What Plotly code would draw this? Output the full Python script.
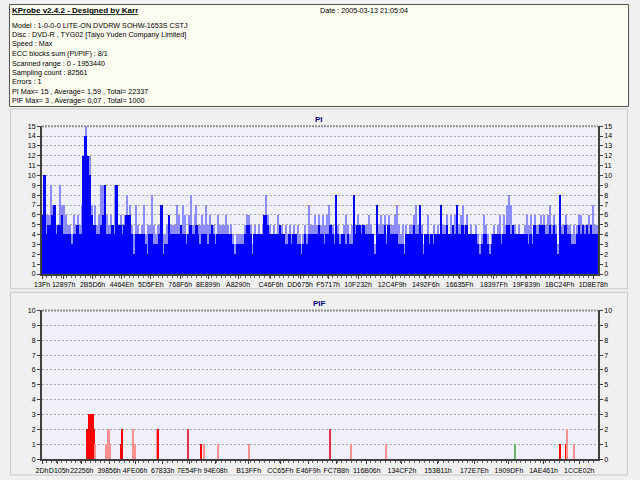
import plotly.graph_objects as go

# ---------------- data ----------------
TOTAL_LBA = 1953440

pi_tick_labels = ["13Fh", "12897h", "2B5D6h", "4464Eh", "5D5FEh", "768F6h", "8E899h",
                  "A8290h", "C46F6h", "DD675h", "F5717h", "10F232h", "12C4F9h", "1492F6h",
                  "16635Fh", "18397Fh", "19F839h", "1BC24Fh", "1D8E78h"]
pif_tick_labels = ["2Dh", "D105h", "22256h", "39856h", "4FE06h", "67833h", "7E54Fh",
                   "94E08h", "B13FFh", "CC65Fh", "E46F9h", "FC7B8h", "116B06h", "134CF2h",
                   "153B11h", "172E7Eh", "1909DFh", "1AE461h", "1CCE02h"]

# PI per display column: peak (light) and sustained (dark) values
pi_light = [6,10,6,6,9,7,7,5,5,9, 7,7,6,5,5,4,6,5,6,5, 7,12,15,12,12,7,5,7,5,6,
            9,9,9,6,5,6,5,9,9,5, 6,5,6,8,6,7,5,4,7,5, 4,5,7,4,5,5,8,5,4,5,
            5,7,4,4,5,6,5,5,5,7, 6,5,7,6,4,6,8,5,6,7, 5,5,6,5,7,5,6,5,5,4,
            6,5,5,5,6,5,4,5,4,3, 4,4,4,4,5,6,6,5,3,5, 4,5,4,5,6,8,6,5,4,5,
            4,6,5,5,4,5,4,5,4,5, 4,5,4,3,4,5,4,7,5,5, 6,5,6,5,6,5,6,7,5,5,
            4,8,5,4,4,5,6,5,4,5, 8,5,6,5,5,5,5,5,6,5, 4,3,7,5,6,5,6,4,6,5,
            5,6,7,5,4,5,3,5,4,5, 5,6,7,5,7,5,3,4,6,4, 4,5,4,5,4,7,5,5,6,4,
            6,5,6,7,5,6,7,5,6,4, 5,4,4,5,4,3,4,6,5,4, 3,4,5,4,5,6,4,6,5,7,
            8,7,5,5,4,5,4,4,5,6, 5,6,4,6,5,5,6,5,6,5, 6,7,5,6,5,3,8,5,5,6,
            5,5,4,5,4,5,6,6,5,5, 5,6,5,7,5,5]
pi_dark = [6,10,4,5,5,6,7,4,5,5, 6,4,4,4,4,3,4,4,5,4, 4,12,14,12,10,6,5,5,4,4,
           5,6,9,4,4,4,5,4,9,5, 5,4,5,6,6,6,4,2,4,4, 4,4,4,3,2,4,4,3,3,3,
           4,7,2,3,3,6,4,4,4,4, 4,5,4,4,3,4,5,4,4,5, 4,3,4,4,4,3,4,5,4,3,
           4,4,4,4,4,4,4,4,3,2, 3,3,3,3,4,5,5,4,2,4, 4,4,4,4,6,6,5,4,4,4,
           4,4,5,4,4,3,3,4,3,4, 4,3,3,2,3,4,3,4,4,4, 4,4,5,4,4,3,4,4,5,4,
           3,8,4,3,4,4,3,4,3,3, 8,4,5,5,4,5,4,4,4,4, 4,2,7,4,4,4,5,3,5,4,
           4,4,4,3,3,3,2,4,4,4, 4,5,4,4,7,4,2,4,4,3, 4,3,4,4,4,7,4,4,5,4,
           4,5,4,7,4,4,5,4,5,4, 4,4,4,4,3,2,3,4,4,3, 2,3,4,4,4,4,3,4,4,5,
           5,4,5,4,4,4,4,4,4,4, 3,4,3,5,4,4,5,5,5,4, 4,5,4,5,4,2,8,4,4,5,
           4,4,3,3,3,4,5,4,5,4, 5,4,5,4,4,4]

# PIF events: LBA, count, kind
pif_lba = [158800, 162200, 165600, 169000, 172500, 175900, 179300, 182700, 186100,
           223700, 230500, 233900, 240800, 278300, 281700, 319300, 326100,
           404700, 408100, 514000, 558400, 568600, 619800, 729100, 1012500,
           1084300, 1207200, 1661400, 1821900, 1842400, 1845800, 1869700]
pif_val = [2, 2, 3, 3, 3, 3, 3, 2, 1,
           1, 2, 2, 1, 1, 2, 2, 1,
           2, 2, 2, 1, 1, 1, 1, 2,
           1, 1, 1, 1, 1, 2, 1]
pif_kind = ["d", "d", "d", "d", "d", "d", "d", "d", "l",
            "l", "l", "l", "l", "d", "d", "l", "l",
            "l", "d", "m", "d", "l", "l", "l", "m",
            "l", "l", "g", "d", "d", "l", "l"]

header_lines = ["Model : 1-0-0-0 LITE-ON DVDRW SOHW-1653S CSTJ",
                "Disc : DVD-R , TYG02 [Taiyo Yuden Company Limited]",
                "Speed : Max",
                "ECC blocks sum (PI/PIF) : 8/1",
                "Scanned range : 0 - 1953440",
                "Sampling count : 82561",
                "Errors : 1",
                "PI Max= 15 , Average= 1,59 , Total= 22337",
                "PIF Max= 3 , Average= 0,07 , Total= 1000"]
title_text = "KProbe v2.4.2 - Designed by Karr"
date_text = "Date : 2005-03-13 21:05:04"

# ---------------- styling ----------------
W, H = 640, 480
FONT = "Liberation Sans"
DARK_BLUE = "#0000FF"
LIGHT_BLUE = "#8C8CFF"
KIND_COLORS = {"d": "#FF0000", "l": "#FF9090", "m": "#E0304A", "g": "#70B070"}


def fx(p):
    return p / W


def fy(p):
    return 1 - p / H


X0, X1 = 35, 607
PI_TOP, PI_BOT = 124, 274
PIF_TOP, PIF_BOT = 311, 462

fig = go.Figure()

ncol = len(pi_light)
colw = TOTAL_LBA / ncol
xs = [(i + 0.5) * colw for i in range(ncol)]
fig.add_bar(x=xs, y=pi_light, width=colw * 0.55, marker=dict(color=LIGHT_BLUE, line_width=0),
            xaxis="x", yaxis="y", hoverinfo="skip")
fig.add_bar(x=xs, y=pi_dark, width=colw, marker=dict(color=DARK_BLUE, line_width=0),
            xaxis="x", yaxis="y", hoverinfo="skip")
fig.add_scatter(x=[0], y=[0], mode="markers", marker=dict(opacity=0), xaxis="x", yaxis="y2",
                hoverinfo="skip")

fig.add_bar(x=pif_lba, y=pif_val, width=3415 * 1.1,
            marker=dict(color=[KIND_COLORS[k] for k in pif_kind], line_width=0),
            xaxis="x2", yaxis="y3", hoverinfo="skip")
fig.add_scatter(x=[0], y=[0], mode="markers", marker=dict(opacity=0), xaxis="x2", yaxis="y4",
                hoverinfo="skip")

tickfont = dict(family=FONT, size=7, color="#000000")
axline = "#404040"


def xaxis_cfg(labels, texts, anchor):
    return dict(domain=[fx(X0), fx(X1)], range=[0, TOTAL_LBA], anchor=anchor,
                tickmode="array", tickvals=[int(s[:-1], 16) for s in labels], ticktext=texts,
                tickangle=0, tickfont=tickfont, ticks="outside", ticklen=3, tickcolor=axline,
                showline=True, linecolor=axline, linewidth=2, showgrid=False, zeroline=False,
                minor=dict(tickmode="linear", tick0=0, dtick=17000, ticks="outside", ticklen=2,
                           tickcolor="#606060", showgrid=False),
                fixedrange=True)


def yaxis_cfg(top, bot, vmax, anchor, side="left", overlay=None):
    d = dict(domain=[fy(bot), fy(top)], range=[0, vmax], anchor=anchor, side=side,
             tickmode="linear", tick0=0, dtick=1, tickfont=tickfont, ticks="outside",
             ticklen=3, tickcolor=axline, showline=True, linecolor=axline, linewidth=2,
             zeroline=False, fixedrange=True)
    if overlay:
        d.update(overlaying=overlay, showgrid=False)
    else:
        d.update(showgrid=True, gridcolor="#A8A8A8", gridwidth=1, griddash="2px,2px")
    return d


# the second PIF label sits just right of the first one in the original
pif_texts = list(pif_tick_labels)
pif_texts[1] = "\u00a0" * 2 + pif_texts[1]

fig.update_layout(
    width=W, height=H, autosize=False,
    margin=dict(l=0, r=0, t=0, b=0),
    paper_bgcolor="#F0F0F0", plot_bgcolor="#F0F0FA",
    showlegend=False, barmode="overlay", bargap=0,
    xaxis=xaxis_cfg(pi_tick_labels, pi_tick_labels, "y"),
    yaxis=yaxis_cfg(PI_TOP, PI_BOT, 15, "x"),
    yaxis2=yaxis_cfg(PI_TOP, PI_BOT, 15, "x", side="right", overlay="y"),
    xaxis2=xaxis_cfg(pif_tick_labels, pif_texts, "y3"),
    yaxis3=yaxis_cfg(PIF_TOP, PIF_BOT, 10, "x2"),
    yaxis4=yaxis_cfg(PIF_TOP, PIF_BOT, 10, "x2", side="right", overlay="y3"),
)

shapes = [
    # header box
    dict(type="rect", xref="paper", yref="paper", x0=fx(1.5), x1=fx(638.5), y0=fy(104), y1=fy(0.5),
         fillcolor="#FCFCF0", line=dict(color="#505050", width=1), layer="below"),
    # panels
    dict(type="rect", xref="paper", yref="paper", x0=fx(2.5), x1=fx(637.5), y0=fy(289), y1=fy(106.5),
         fillcolor="rgba(0,0,0,0)", line=dict(color="#C8C8C8", width=1), layer="below"),
    dict(type="rect", xref="paper", yref="paper", x0=fx(2.5), x1=fx(637.5), y0=fy(478), y1=fy(292.5),
         fillcolor="rgba(0,0,0,0)", line=dict(color="#C8C8C8", width=1), layer="below"),
    # dotted top borders
    dict(type="line", xref="paper", yref="paper", x0=fx(X0), x1=fx(X1), y0=fy(PI_TOP), y1=fy(PI_TOP),
         line=dict(color="#909090", width=2, dash="2px,1px")),
    dict(type="line", xref="paper", yref="paper", x0=fx(X0), x1=fx(X1), y0=fy(PIF_TOP), y1=fy(PIF_TOP),
         line=dict(color="#909090", width=2, dash="2px,1px")),
]
fig.update_layout(shapes=shapes)

ann = []
txtfont = dict(family=FONT, size=7.2, color="#000000")
ann.append(dict(text="<b><u>" + title_text + "</u></b>", x=fx(2), y=fy(6.5), xref="paper", yref="paper",
                xanchor="left", yanchor="middle", showarrow=False,
                font=dict(family=FONT, size=8, color="#000000")))
ann.append(dict(text=date_text, x=fx(319), y=fy(6.5), xref="paper", yref="paper",
                xanchor="left", yanchor="middle", showarrow=False, font=txtfont))
line_y = [21.5, 31, 40.5, 50, 60, 69.5, 79, 88.5, 98]
for t, yy in zip(header_lines, line_y):
    ann.append(dict(text=t, x=fx(2), y=fy(yy), xref="paper", yref="paper",
                    xanchor="left", yanchor="middle", showarrow=False, font=txtfont))
ttlfont = dict(family=FONT, size=8, color="#000080")
ann.append(dict(text="<b>PI</b>", x=fx(320), y=fy(117), xref="paper", yref="paper",
                xanchor="center", yanchor="middle", showarrow=False, font=ttlfont))
ann.append(dict(text="<b>PIF</b>", x=fx(320), y=fy(304), xref="paper", yref="paper",
                xanchor="center", yanchor="middle", showarrow=False, font=ttlfont))
fig.update_layout(annotations=ann)

fig.write_html("out.html", config={"displayModeBar": False},
               post_script="document.body.style.margin='0';document.body.style.overflow='hidden';")
